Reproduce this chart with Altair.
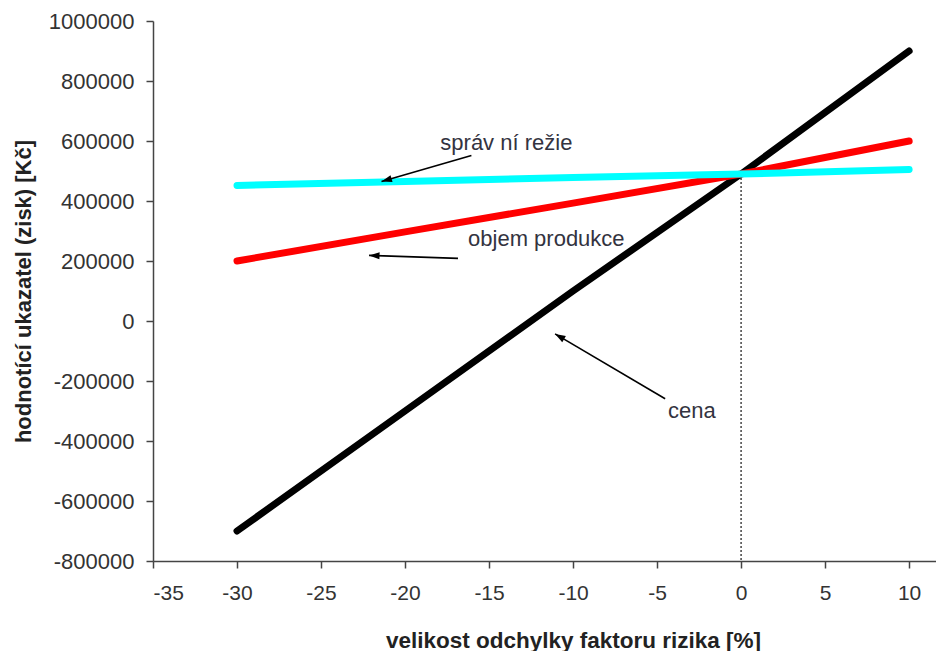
import math
import altair as alt
import pandas as pd

# ---- data ----
x_vals = [-30, -20, -10, 0, 10]
cena = [-700000, -300000, 100000, 490000, 900000]
objem = [200000, 297000, 393000, 490000, 600000]
rezie = [452000, 465000, 478000, 490000, 505000]
series_names = ["cena", "objem produkce", "správní režie"]
series_colors = ["#000000", "#ff0000", "#00ffff"]

x_ticks = [-35, -30, -25, -20, -15, -10, -5, 0, 5, 10]
y_ticks = [-800000, -600000, -400000, -200000, 0, 200000, 400000, 600000, 800000, 1000000]

# annotations (data units)
ann_text = ["správ ní režie", "objem produkce", "cena"]
ann_tx = [-17.9, -16.25, -4.35]
ann_ty = [595000, 274700, -299300]
arr_x1 = [-16.05, -16.85, -4.52]
arr_y1 = [551800, 208600, -259200]
arr_x2 = [-21.4, -22.14, -11.07]
arr_y2 = [465000, 218600, -43000]

ref_x = [0]
ref_y_top = [490000]
ref_y_bot = [-800000]

# ---- layout ----
W, H = 783, 540
XMIN, XMAX = -35, 11.6
YMIN, YMAX = -800000, 1000000
px_x = W / (XMAX - XMIN)
px_y = H / (YMAX - YMIN)

FONT = "Liberation Sans"

rows = []
for name, vals in zip(series_names, [cena, objem, rezie]):
    for xv, yv in zip(x_vals, vals):
        rows.append({"x": xv, "y": yv, "s": name})
df = pd.DataFrame(rows)

xs = alt.Scale(domain=[XMIN, XMAX], nice=False, zero=False)
ys = alt.Scale(domain=[YMIN, YMAX], nice=False, zero=False)

x_axis = alt.Axis(values=x_ticks, labelExpr="toString(datum.value)",
                  title="velikost odchylky faktoru rizika [%]", grid=False,
                  labelFontSize=21, labelPadding=14, titleFontSize=22.5, titleFontWeight="bold",
                  titlePadding=26, titleX=420)
y_axis = alt.Axis(values=y_ticks, labelExpr="toString(datum.value)",
                  title="hodnotící ukazatel (zisk) [Kč]", grid=False,
                  labelFontSize=22, labelPadding=12, titleFontSize=22, titleFontWeight="bold",
                  titlePadding=13)

base = alt.Chart(df)

ref_df = pd.DataFrame({"x": ref_x, "y": ref_y_top, "y2": ref_y_bot})
ref = alt.Chart(ref_df).mark_rule(color="#444444", strokeWidth=1.5, strokeDash=[2, 2]).encode(
    x=alt.X("x:Q", scale=xs, axis=x_axis),
    y=alt.Y("y:Q", scale=ys, axis=y_axis),
    y2="y2:Q",
)

layers = [ref]
for name, col in zip(series_names, series_colors):
    layers.append(
        base.transform_filter(alt.datum.s == name)
        .mark_line(color=col, strokeWidth=7, strokeCap="round", strokeJoin="round")
        .encode(x=alt.X("x:Q", scale=xs), y=alt.Y("y:Q", scale=ys))
    )

arr_df = pd.DataFrame({"x1": arr_x1, "y1": arr_y1, "x2": arr_x2, "y2": arr_y2})
angles = []
for a, b, c, d in zip(arr_x1, arr_y1, arr_x2, arr_y2):
    dx = (c - a) * px_x
    dy = -(d - b) * px_y
    angles.append(math.degrees(math.atan2(dx, -dy)) % 360)
arr_df["angle"] = angles

arrows = alt.Chart(arr_df).mark_rule(color="#000000", strokeWidth=1.6).encode(
    x=alt.X("x1:Q", scale=xs), y=alt.Y("y1:Q", scale=ys), x2="x2:Q", y2="y2:Q"
)
heads = alt.Chart(arr_df).mark_point(
    shape="M0,0 L-0.55,1.6 L0.55,1.6 Z", filled=True, color="#000000", opacity=1, size=170
).encode(
    x=alt.X("x2:Q", scale=xs), y=alt.Y("y2:Q", scale=ys), angle=alt.Angle("angle:Q", scale=None)
)

txt_df = pd.DataFrame({"t": ann_text, "x": ann_tx, "y": ann_ty})
texts = alt.Chart(txt_df).mark_text(
    align="left", baseline="middle", fontSize=22, font=FONT, color="#333340"
).encode(x=alt.X("x:Q", scale=xs), y=alt.Y("y:Q", scale=ys), text="t:N")

chart = alt.layer(*layers, arrows, heads, texts).properties(
    width=W, height=H,
    autosize=alt.AutoSizeParams(type="none"),
    padding={"left": 145, "top": 13, "right": 0, "bottom": 96},
).configure_view(stroke=None).configure_axis(
    labelFont=FONT, titleFont=FONT, labelColor="#333333", titleColor="#222222",
    domainColor="#444444", domainWidth=1.5, tickColor="#444444", tickWidth=1.5, tickSize=7,
)

chart.save("out.html", embed_options={"renderer": "svg", "actions": False})
